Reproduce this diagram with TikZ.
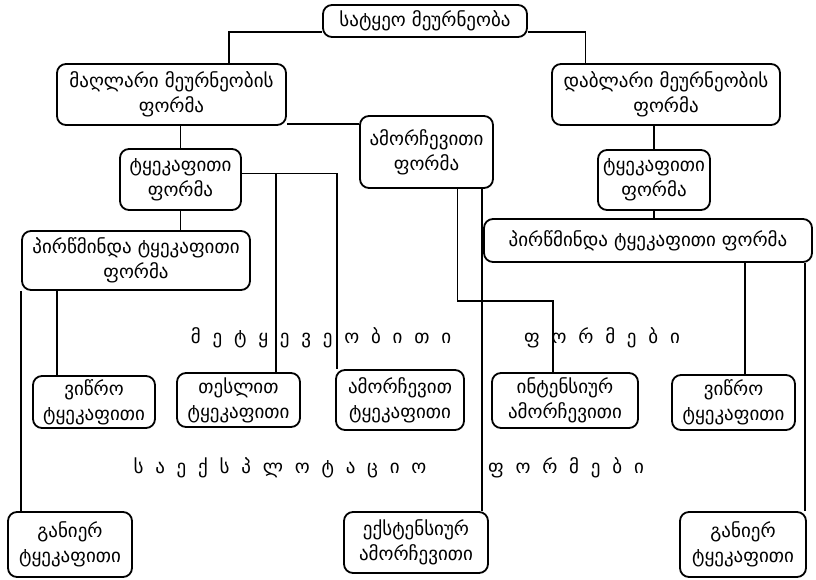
\documentclass[tikz,border=0pt]{standalone}
\usepackage{fontspec}
\setmainfont{DejaVu Sans}
\usetikzlibrary{calc}

\begin{document}
\begin{tikzpicture}[x=1pt,y=-1pt,font=\fontsize{19}{25}\selectfont,line width=1.8pt,
	box/.style={draw=black,rounded corners=9pt,align=center,inner sep=1pt},
	spaced/.style={font=\fontsize{19}{25}\selectfont\addfontfeature{LetterSpace=62}}]
	\useasboundingbox (0,0) rectangle (816,579);

	\node[box,name=top,minimum width=204pt,minimum height=32pt] at (425,21) {სატყეო მეურნეობა};
	\node[box,name=maghlari,minimum width=229pt,minimum height=61pt] at (171.5,94.5) {მაღლარი მეურნეობის\\ფორმა};
	\node[box,name=dablari,minimum width=228pt,minimum height=61pt] at (666,94.5) {დაბლარი მეურნეობის\\ფორმა};
	\node[box,name=amorch,minimum width=133pt,minimum height=72pt] at (426.5,152) {ამორჩევითი\\ფორმა};
	\node[box,name=tkL,minimum width=121pt,minimum height=61pt] at (180.5,179.5) {ტყეკაფითი\\ფორმა};
	\node[box,name=tkR,minimum width=112pt,minimum height=60pt] at (654,180) {ტყეკაფითი\\ფორმა};
	\node[box,name=pirL,minimum width=228pt,minimum height=59pt] at (136,260.5) {პირწმინდა ტყეკაფითი\\ფორმა};
	\node[box,name=pirR,minimum width=328pt,minimum height=43pt] at (648,240.5) {პირწმინდა ტყეკაფითი ფორმა};

	\node[box,name=vitsL,minimum width=122pt,minimum height=52pt] at (94,402) {ვიწრო\\ტყეკაფითი};
	\node[box,name=thesli,minimum width=123pt,minimum height=54pt] at (238.5,400) {თესლით\\ტყეკაფითი};
	\node[box,name=amtk,minimum width=128pt,minimum height=60pt] at (400,400) {ამორჩევით\\ტყეკაფითი};
	\node[box,name=intens,minimum width=146pt,minimum height=55pt] at (565,400.5) {ინტენსიურ\\ამორჩევითი};
	\node[box,name=vitsR,minimum width=123pt,minimum height=55pt] at (733.5,402.5) {ვიწრო\\ტყეკაფითი};

	\node[box,name=ganL,minimum width=124pt,minimum height=65pt] at (70,544.5) {განიერ\\ტყეკაფითი};
	\node[box,name=ext,minimum width=144pt,minimum height=61pt] at (416,542.5) {ექსტენსიურ\\ამორჩევითი};
	\node[box,name=ganR,minimum width=126pt,minimum height=65pt] at (743,544.5) {განიერ\\ტყეკაფითი};

	\node[spaced,name=metq] at (321,338) {მეტყევეობითი};
	\node[spaced,name=form1] at (602,338) {ფორმები};
	\node[spaced,name=saeks] at (280,468) {საექსპლოტაციო};
	\node[spaced,name=form2] at (566,468) {ფორმები};

	% connector points
	\coordinate (mL) at ($(maghlari.south east)+(0,-2)$);
	\coordinate (tA) at ($(tkL.east)+(0,-6)$);
	\coordinate (tB) at ($(thesli.north west)!0.8!(thesli.north east)$);
	\coordinate (vA) at ($(vitsL.north west)!0.2!(vitsL.north east)$);
	\coordinate (vB) at ($(vitsR.north west)!0.59!(vitsR.north east)$);
	\coordinate (gR) at ($(ganR.north east)+(-2,0)$);
	\coordinate (aA) at ($(amorch.south west)!0.73!(amorch.south east)$);
	\coordinate (aB) at ($(amorch.south west)!0.91!(amorch.south east)$);
	\coordinate (iA) at ($(intens.north west)!0.42!(intens.north east)$);

	\draw ([yshift=-11pt]top.west) -| ($(maghlari.north west)!0.75!(maghlari.north east)$);
	\draw ([yshift=-11pt]top.east) -| ($(dablari.north west)!0.15!(dablari.north east)$);
	\draw (mL) -- (mL -| amorch.west);
	\draw (tkL.north) -- (tkL.north |- maghlari.south);
	\draw (tkL.south) -- (tkL.south |- pirL.north);
	\draw (tA) -| ($(amtk.north west)+(2,0)$);
	\draw (tB) -- (tB |- tA);
	\draw (vA) -- (vA |- pirL.south);
	\draw (pirL.south west) -- (pirL.south west |- ganL.north);
	\draw (tkR.north) -- (tkR.north |- dablari.south);
	\draw (tkR.south) -- (tkR.south |- pirR.north);
	\draw (vB) -- (vB |- pirR.south);
	\draw (gR) -- (gR |- pirR.south);
	\draw (aA) |- ([yshift=71pt]iA) -- (iA);
	\draw (aB) -- (aB |- ext.north);
\end{tikzpicture}
\end{document}
